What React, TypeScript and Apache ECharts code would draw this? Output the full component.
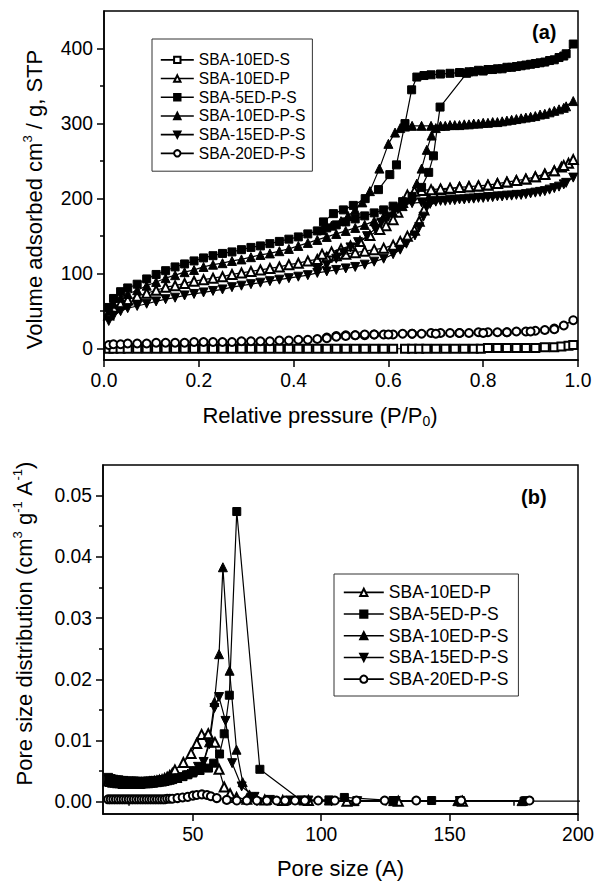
import React, { useEffect, useRef } from "react";
import * as echarts from "echarts";

const FONT = "'Liberation Sans', Arial, Helvetica, sans-serif";

// ---------- (a) N2 isotherms ----------
const isoNames = ["SBA-10ED-S", "SBA-10ED-P", "SBA-5ED-P-S", "SBA-10ED-P-S", "SBA-15ED-P-S", "SBA-20ED-P-S"];
const pLow = [0.01, 0.02, 0.035, 0.05, 0.07, 0.09, 0.11, 0.13, 0.15, 0.17, 0.19, 0.21, 0.23, 0.25, 0.27, 0.29, 0.31, 0.33, 0.35, 0.37, 0.39, 0.41, 0.43, 0.45, 0.47, 0.49, 0.51, 0.53, 0.55, 0.57];

const tenSLow = [0, 0, 0, 0, 0, 0, 0, 0, 0, 0, 0, 0, 0, 0, 0, 0, 0, 0, 0, 0, 0, 0, 0, 0, 0, 0, 0, 0, 0, 0];
const tenSHigh = [[0.59, 0], [0.61, 0], [0.635, 0], [0.65, 0], [0.665, 0], [0.68, 0], [0.7, 0], [0.72, 0], [0.74, 0], [0.76, 0], [0.78, 0], [0.795, 0], [0.81, 1], [0.83, 1], [0.85, 1], [0.87, 1], [0.89, 1], [0.91, 1], [0.93, 2], [0.95, 2], [0.965, 3], [0.98, 4], [0.99, 5]];

const tenPLow = [45, 55, 60, 65, 70, 74, 78, 82, 84, 87, 90, 92, 94, 96, 99, 101, 103, 105, 107, 109, 112, 114, 117, 119, 122, 124, 126, 128, 130, 132];
const tenPHigh = [[0.59, 134], [0.61, 138], [0.625, 143], [0.64, 150], [0.655, 158], [0.665, 170], [0.675, 185], [0.685, 200], [0.695, 208], [0.71, 212], [0.73, 213], [0.75, 215], [0.77, 216], [0.79, 217], [0.81, 218], [0.83, 220], [0.85, 222], [0.87, 224], [0.89, 226], [0.91, 229], [0.93, 233], [0.95, 237], [0.965, 242], [0.98, 247], [0.99, 252]];
const tenPDes = [[0.97, 244], [0.95, 237], [0.93, 232], [0.91, 229], [0.89, 226], [0.87, 224], [0.85, 222], [0.83, 220], [0.81, 218], [0.79, 217], [0.77, 216], [0.75, 215], [0.73, 214], [0.71, 213], [0.69, 212], [0.67, 211], [0.655, 210], [0.64, 205], [0.63, 195], [0.62, 182], [0.61, 172], [0.595, 164], [0.582, 159], [0.561, 151], [0.54, 143], [0.52, 137], [0.5, 133], [0.48, 129], [0.46, 126]];

const fiveLow = [55, 67, 76, 81, 86, 93, 99, 104, 109, 113, 117, 121, 124, 127, 129, 132, 135, 137, 140, 143, 146, 149, 153, 157, 161, 165, 169, 173, 177, 181];
const fiveHigh = [[0.59, 185], [0.61, 190], [0.63, 196], [0.65, 203], [0.67, 215], [0.685, 235], [0.695, 257], [0.709, 322], [0.765, 367], [0.78, 369], [0.8, 370], [0.82, 372], [0.84, 373], [0.86, 375], [0.88, 377], [0.9, 379], [0.92, 381], [0.94, 384], [0.96, 388], [0.975, 393], [0.99, 406]];
const fiveDes = [[0.97, 390], [0.95, 385], [0.93, 382], [0.91, 380], [0.89, 378], [0.87, 376], [0.85, 375], [0.83, 373], [0.81, 372], [0.79, 371], [0.77, 369], [0.75, 368], [0.73, 367], [0.71, 366], [0.69, 365], [0.675, 364], [0.66, 362], [0.649, 345], [0.635, 300], [0.617, 245], [0.603, 232], [0.579, 212], [0.551, 200], [0.526, 191], [0.505, 185], [0.484, 180], [0.463, 169]];

const tenPSLow = [50, 60, 68, 73, 78, 84, 89, 94, 98, 102, 105, 109, 112, 114, 117, 119, 122, 125, 127, 130, 133, 137, 141, 145, 149, 153, 157, 161, 165, 170];
const tenPSHigh = [[0.59, 176], [0.61, 182], [0.63, 190], [0.645, 200], [0.66, 220], [0.67, 240], [0.681, 265], [0.691, 284], [0.7, 294], [0.72, 297], [0.74, 298], [0.76, 299], [0.78, 300], [0.8, 301], [0.82, 302], [0.84, 303], [0.86, 305], [0.88, 307], [0.9, 309], [0.92, 312], [0.94, 315], [0.96, 319], [0.975, 323], [0.99, 330]];
const tenPSDes = [[0.97, 321], [0.95, 317], [0.93, 313], [0.91, 310], [0.89, 308], [0.87, 306], [0.85, 304], [0.83, 302], [0.81, 301], [0.79, 300], [0.77, 299], [0.75, 298], [0.73, 298], [0.71, 297], [0.69, 297], [0.67, 297], [0.65, 297], [0.635, 296], [0.625, 294], [0.614, 288], [0.6, 273], [0.581, 240], [0.561, 210], [0.545, 195], [0.53, 185], [0.515, 177], [0.5, 170], [0.48, 164], [0.46, 158]];

const fifteenLow = [37, 44, 50, 54, 57, 60, 63, 66, 68, 71, 73, 75, 77, 79, 82, 84, 86, 88, 90, 92, 94, 96, 98, 101, 103, 105, 107, 109, 112, 116];
const fifteenHigh = [[0.59, 120], [0.61, 126], [0.625, 132], [0.638, 140], [0.656, 151], [0.665, 162], [0.674, 176], [0.681, 189], [0.688, 193], [0.7, 196], [0.72, 197], [0.74, 198], [0.76, 199], [0.78, 200], [0.8, 201], [0.82, 202], [0.84, 203], [0.86, 204], [0.88, 205], [0.9, 207], [0.92, 209], [0.94, 212], [0.96, 216], [0.975, 221], [0.99, 228]];
const fifteenDes = [[0.97, 219], [0.95, 214], [0.93, 210], [0.91, 208], [0.89, 206], [0.87, 205], [0.85, 204], [0.83, 203], [0.81, 202], [0.79, 201], [0.77, 200], [0.75, 199], [0.73, 198], [0.71, 197], [0.69, 196], [0.67, 195], [0.65, 194], [0.635, 192], [0.62, 186], [0.6, 176], [0.585, 168], [0.572, 160], [0.555, 150], [0.536, 142], [0.52, 135], [0.505, 128], [0.49, 120], [0.47, 112], [0.45, 106]];

const twentyLow = [5, 6, 6, 7, 7, 7, 8, 8, 8, 8, 9, 9, 9, 9, 9, 10, 10, 10, 10, 11, 11, 12, 12, 13, 15, 17, 18, 18, 18, 19];
const twentyHigh = [[0.59, 19], [0.61, 19], [0.63, 20], [0.65, 20], [0.67, 20], [0.69, 21], [0.71, 21], [0.73, 21], [0.75, 21], [0.77, 21], [0.79, 22], [0.81, 22], [0.83, 22], [0.85, 22], [0.87, 23], [0.89, 23], [0.91, 24], [0.93, 25], [0.95, 27], [0.97, 31], [0.99, 38]];
const twentyDes = [[0.95, 26], [0.9, 23], [0.85, 22], [0.8, 21], [0.75, 21], [0.7, 20], [0.65, 20], [0.6, 19], [0.57, 19], [0.55, 19], [0.53, 18], [0.51, 17], [0.49, 16], [0.47, 14]];

const isoXTicks = [0, 0.2, 0.4, 0.6, 0.8, 1.0];
const isoXMinor = [0.1, 0.3, 0.5, 0.7, 0.9];
const isoYTicks = [0, 100, 200, 300, 400];
const isoYMinor = [50, 150, 250, 350];

// ---------- (b) pore size distribution ----------
const psdNames = ["SBA-10ED-P", "SBA-5ED-P-S", "SBA-10ED-P-S", "SBA-15ED-P-S", "SBA-20ED-P-S"];
const dLow = [17, 18, 19, 20, 21, 22, 23, 24, 25, 26, 27, 28, 29, 30, 31, 32, 33, 34, 35, 36, 37, 38, 39, 40, 41, 42];

const psdTenPLow = [0.0034, 0.0033, 0.0032, 0.0032, 0.0031, 0.0031, 0.003, 0.003, 0.003, 0.003, 0.003, 0.003, 0.003, 0.0031, 0.0031, 0.0031, 0.0032, 0.0032, 0.0033, 0.0034, 0.0035, 0.0036, 0.0038, 0.004, 0.0043, 0.0046];
const psdTenPHigh = [[43, 0.0052], [46.3, 0.0064], [49.3, 0.0079], [51.5, 0.0095], [53.4, 0.011], [56, 0.0111], [58.6, 0.0097], [60.2, 0.0053], [62.2, 0.0024], [64.5, 0.0013], [67, 0.0007], [71, 0.0004], [78, 0.0003], [85, 0.0002], [95, 0.0002], [110, 0.0001], [130, 0.0001], [155, 0.0001]];

const psdFiveLow = [0.0037, 0.0035, 0.0034, 0.0034, 0.0033, 0.0033, 0.0032, 0.0032, 0.0032, 0.0031, 0.0031, 0.0031, 0.0031, 0.0031, 0.0031, 0.0031, 0.0032, 0.0032, 0.0032, 0.0033, 0.0033, 0.0034, 0.0034, 0.0035, 0.0036, 0.0037];
const psdFiveHigh = [[44, 0.0038], [46, 0.0041], [48, 0.0044], [50, 0.0047], [52.8, 0.0051], [56.1, 0.0055], [58.1, 0.0063], [60.4, 0.0078], [62.2, 0.0111], [64.2, 0.0174], [67.1, 0.0474], [76.1, 0.0053], [92, 0.0003], [103, 0.0003], [109, 0.0007], [128, 0.0002], [143, 0.0002], [154, 0.0002], [179, 0.0001], [215, 0.0001]];

const psdTenPSLow = [0.0036, 0.0034, 0.0033, 0.0033, 0.0032, 0.0032, 0.0032, 0.0031, 0.0031, 0.0031, 0.0031, 0.003, 0.003, 0.003, 0.0031, 0.0031, 0.0031, 0.0032, 0.0032, 0.0032, 0.0033, 0.0033, 0.0034, 0.0035, 0.0036, 0.0037];
const psdTenPSHigh = [[44, 0.0039], [46, 0.0042], [48, 0.0046], [50, 0.005], [52, 0.0055], [54, 0.0063], [56.3, 0.0097], [58.4, 0.0163], [60.2, 0.0241], [61.7, 0.0383], [64.3, 0.0214], [67, 0.0085], [69.4, 0.0032], [72, 0.0012], [74.2, 0.0008], [79, 0.0003], [86, 0.0002], [93, 0.0002], [103, 0.0002], [113, 0.0001], [128, 0.0001], [153, 0.0001], [178, 0.0001]];

const psdFifteenLow = [0.0039, 0.0037, 0.0036, 0.0035, 0.0035, 0.0034, 0.0034, 0.0033, 0.0033, 0.0033, 0.0033, 0.0033, 0.0032, 0.0032, 0.0032, 0.0033, 0.0033, 0.0033, 0.0034, 0.0034, 0.0034, 0.0035, 0.0035, 0.0036, 0.0037, 0.0038];
const psdFifteenHigh = [[44.5, 0.0038], [47.6, 0.0043], [50, 0.005], [52, 0.0057], [54.2, 0.0065], [56.4, 0.0094], [58.4, 0.0153], [60.2, 0.0171], [62.7, 0.0132], [65.3, 0.0063], [69, 0.0025], [74, 0.0008], [80, 0.0003], [88, 0.0002], [95, 0.0002], [104, 0.0001], [114, 0.0001], [129, 0.0001], [154, 0.0001], [180, 0.0001]];

const psdTwentyLow = [0.0004, 0.0004, 0.0004, 0.0004, 0.0004, 0.0004, 0.0004, 0.0004, 0.0004, 0.0004, 0.0004, 0.0004, 0.0004, 0.0004, 0.0004, 0.0004, 0.0004, 0.0004, 0.0004, 0.0004, 0.0004, 0.0004, 0.0004, 0.0005, 0.0005, 0.0005];
const psdTwentyHigh = [[44, 0.0006], [46, 0.0007], [48, 0.0008], [50, 0.001], [51.5, 0.0011], [53.5, 0.0012], [55.5, 0.0011], [57, 0.0009], [59.3, 0.0006], [63.2, 0.0003], [67.1, 0.0002], [71, 0.0002], [74.9, 0.0002], [78.8, 0.0002], [82.6, 0.0002], [85.9, 0.0002], [89.8, 0.0002], [93.6, 0.0002], [98.8, 0.0002], [105.3, 0.0002], [113.7, 0.0002], [124.7, 0.0002], [137, 0.0002], [154.5, 0.0002], [181.1, 0.0002]];

const psdXTicks = [50, 100, 150, 200];
const psdXMinor = [25, 75, 125, 175];
const psdYTicks = [0, 0.01, 0.02, 0.03, 0.04, 0.05];
const psdYMinor = [0.005, 0.015, 0.025, 0.035, 0.045];

const DOWN_TRI = "path://M0,0L10,0L5,9Z";

function build(xs: number[], ys: number[], ...rest: number[][][]) {
  let out: number[][] = xs.map((x, i) => [x, ys[i]]);
  rest.forEach((r) => (out = out.concat(r)));
  return out;
}

const black = "#000";
const labelStyle = { color: black, fontSize: 19.3, fontFamily: FONT };

function mainAxis(gridIndex: number, min: number, max: number, ticks: number[], fmt: (v: number) => string, extra: any) {
  return {
    gridIndex,
    type: "value",
    min,
    max,
    axisLine: { show: true, onZero: false, lineStyle: { color: black, width: 1.5 } },
    axisTick: { show: true, inside: false, length: 7, customValues: ticks, lineStyle: { color: black, width: 1.5 } },
    axisLabel: { ...labelStyle, margin: 11, customValues: ticks, formatter: (v: number) => fmt(v) },
    splitLine: { show: false },
    ...extra,
  };
}
function minorAxis(gridIndex: number, min: number, max: number, ticks: number[], position: string) {
  return {
    gridIndex,
    type: "value",
    position,
    min,
    max,
    axisLine: { show: false },
    axisTick: { show: true, inside: false, length: 4, customValues: ticks, lineStyle: { color: black, width: 1.5 } },
    axisLabel: { show: false },
    splitLine: { show: false },
  };
}

function lineSeries(name: string, data: number[][], symbol: string, size: number, xi: number, yi: number) {
  return {
    type: "line",
    name,
    data,
    xAxisIndex: xi,
    yAxisIndex: yi,
    symbol,
    symbolSize: size,
    showAllSymbol: true,
    clip: true,
    lineStyle: { color: black, width: 1.2 },
    itemStyle: { color: black, borderColor: black, borderWidth: 1 },
    emphasis: { disabled: true },
  };
}

export default function App() {
  const ref = useRef<HTMLDivElement>(null);
  useEffect(() => {
    const chart = echarts.init(ref.current!, null, { renderer: "svg" });
    const nameBase = { color: black, fontSize: 22, fontFamily: FONT, lineHeight: 26 };
    const rich = {
      sup: { fontSize: 13, fontFamily: FONT, color: black, lineHeight: 13, verticalAlign: "top" },
      sub: { fontSize: 14, fontFamily: FONT, color: black, lineHeight: 14, verticalAlign: "bottom" },
    };
    const option: any = {
      animation: false,
      backgroundColor: "#fff",
      grid: [
        { left: 104, top: 11, width: 474, height: 349, show: true, borderColor: black, borderWidth: 1.5 },
        { left: 103, top: 465, width: 475, height: 352, show: true, borderColor: black, borderWidth: 1.5 },
      ],
      xAxis: [
        mainAxis(0, 0, 1, isoXTicks, (v) => v.toFixed(1), {
          position: "bottom",
          name: "Relative pressure (P/P{sub|0})",
          nameLocation: "middle",
          nameGap: 42,
          nameTextStyle: { ...nameBase, rich, padding: [0, 42, 0, 0] },
        }),
        mainAxis(1, 15, 200, psdXTicks, (v) => String(v), {
          position: "bottom",
          name: "Pore size (A)",
          nameLocation: "middle",
          nameGap: 41,
          nameTextStyle: { ...nameBase },
        }),
        minorAxis(0, 0, 1, isoXMinor, "bottom"),
        minorAxis(1, 15, 200, psdXMinor, "bottom"),
      ],
      yAxis: [
        mainAxis(0, -15, 450, isoYTicks, (v) => String(v), {
          position: "left",
          name: "Volume adsorbed cm{sup|3} / g, STP",
          nameLocation: "middle",
          nameGap: 57,
          nameTextStyle: { ...nameBase, rich, padding: [0, 28, 0, 0] },
        }),
        mainAxis(1, -0.002, 0.055, psdYTicks, (v) => v.toFixed(2), {
          position: "left",
          name: "Pore size distribution (cm{sup|3} g{sup|-1} A{sup|-1})",
          nameLocation: "middle",
          nameGap: 66,
          nameTextStyle: { ...nameBase, rich, padding: [0, 0, 0, 32] },
        }),
        minorAxis(0, -15, 450, isoYMinor, "left"),
        minorAxis(1, -0.002, 0.055, psdYMinor, "left"),
      ],
      legend: [
        {
          show: true,
          orient: "vertical",
          left: 152,
          top: 39,
          padding: [11.5, 7, 8.5, 8],
          itemGap: 0,
          itemWidth: 33,
          itemHeight: 8,
          borderColor: "#333",
          borderWidth: 1,
          selectedMode: false,
          lineStyle: { width: 1.6 },
          textStyle: { color: black, fontSize: 15.6, fontFamily: FONT, lineHeight: 18.7 },
          data: isoNames,
        },
        {
          show: true,
          orient: "vertical",
          left: 334,
          top: 574,
          padding: [7.5, 10, 6, 9],
          itemGap: 0,
          itemWidth: 40,
          itemHeight: 9,
          borderColor: "#333",
          borderWidth: 1,
          selectedMode: false,
          lineStyle: { width: 1.6 },
          textStyle: { color: black, fontSize: 17.5, fontFamily: FONT, lineHeight: 21.7 },
          data: psdNames,
        },
      ],
      graphic: [
        { type: "text", left: 532, top: 22, style: { text: "(a)", fontSize: 20, fontWeight: "bold", fontFamily: FONT, fill: black } },
        { type: "text", left: 521, top: 487, style: { text: "(b)", fontSize: 20, fontWeight: "bold", fontFamily: FONT, fill: black } },
      ],
      series: [
        lineSeries("SBA-10ED-S", build(pLow, tenSLow, tenSHigh), "emptyRect", 8, 0, 0),
        lineSeries("SBA-10ED-P", build(pLow, tenPLow, tenPHigh, tenPDes), "emptyTriangle", 9, 0, 0),
        lineSeries("SBA-5ED-P-S", build(pLow, fiveLow, fiveHigh, fiveDes), "rect", 8, 0, 0),
        lineSeries("SBA-10ED-P-S", build(pLow, tenPSLow, tenPSHigh, tenPSDes), "triangle", 9, 0, 0),
        lineSeries("SBA-15ED-P-S", build(pLow, fifteenLow, fifteenHigh, fifteenDes), DOWN_TRI, 9, 0, 0),
        lineSeries("SBA-20ED-P-S", build(pLow, twentyLow, twentyHigh, twentyDes), "emptyCircle", 8, 0, 0),

        lineSeries("SBA-10ED-P", build(dLow, psdTenPLow, psdTenPHigh), "emptyTriangle", 9, 1, 1),
        lineSeries("SBA-5ED-P-S", build(dLow, psdFiveLow, psdFiveHigh), "rect", 8, 1, 1),
        lineSeries("SBA-10ED-P-S", build(dLow, psdTenPSLow, psdTenPSHigh), "triangle", 9, 1, 1),
        lineSeries("SBA-15ED-P-S", build(dLow, psdFifteenLow, psdFifteenHigh), DOWN_TRI, 9, 1, 1),
        lineSeries("SBA-20ED-P-S", build(dLow, psdTwentyLow, psdTwentyHigh), "emptyCircle", 8, 1, 1),
      ],
    };
    chart.setOption(option);
    return () => chart.dispose();
  }, []);
  return <div ref={ref} style={{ position: "fixed", left: 0, top: 0, width: 598, height: 882, background: "#fff" }} />;
}
